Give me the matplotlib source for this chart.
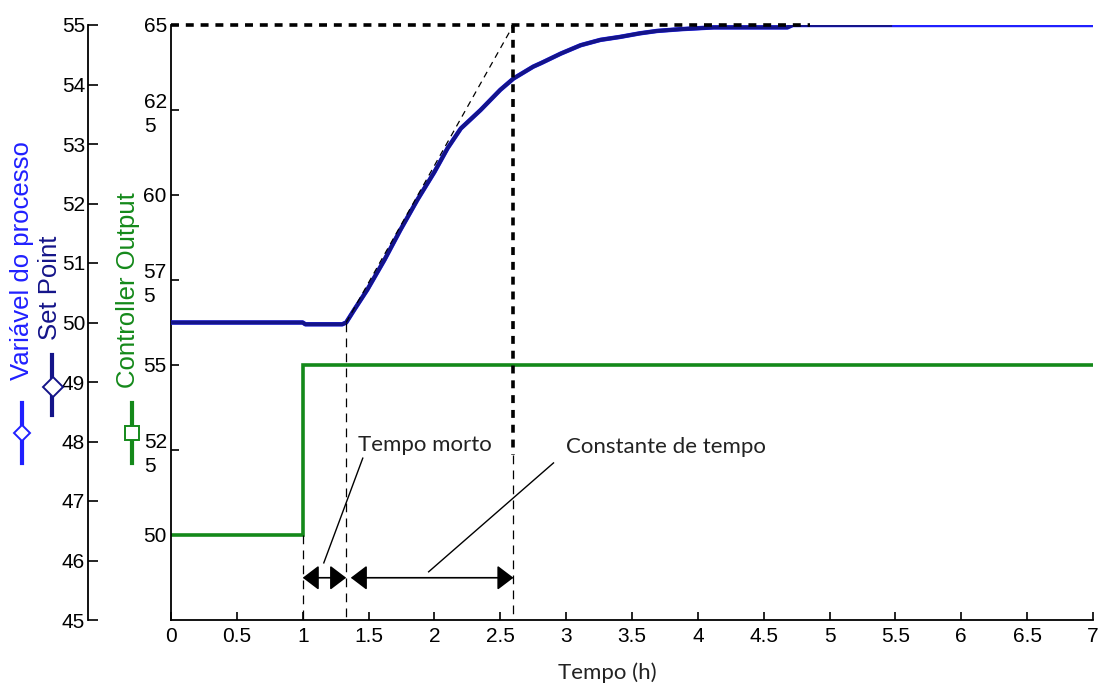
import matplotlib
matplotlib.use("Agg")
import matplotlib.pyplot as plt
from matplotlib.lines import Line2D

# ---------------- data ----------------
pv_t = [0.0, 1.0, 1.02, 1.30, 1.33, 1.39, 1.49, 1.62, 1.74, 1.87, 2.00, 2.10, 2.20,
        2.35, 2.50, 2.60, 2.75, 2.81, 2.96, 3.11, 3.26, 3.41, 3.56, 3.69, 3.87, 4.12,
        4.68, 4.72, 7.0]
pv_v = [50.0, 50.0, 49.97, 49.97, 50.0, 50.21, 50.55, 51.05, 51.55, 52.06, 52.53, 52.93, 53.26,
        53.57, 53.91, 54.10, 54.30, 54.36, 54.52, 54.66, 54.75, 54.80, 54.86, 54.90, 54.93, 54.96,
        54.96, 55.0, 55.0]
sp_end = 5.46          # where the navy trace ends (bright blue continues)

co_t = [0.0, 1.0, 1.0, 7.0]
co_v = [50.0, 50.0, 55.0, 55.0]

x_ticks = [0, 0.5, 1, 1.5, 2, 2.5, 3, 3.5, 4, 4.5, 5, 5.5, 6, 6.5, 7]
x_labels = ['0', '0.5', '1', '1.5', '2', '2.5', '3', '3.5', '4', '4.5', '5', '5.5', '6', '6.5', '7']
pv_ticks = [45, 46, 47, 48, 49, 50, 51, 52, 53, 54, 55]
co_ticks = [50, 52.5, 55, 57.5, 60, 62.5, 65]
co_labels = ['50', '52\n5', '55', '57\n5', '60', '62\n5', '65']

t_step = 1.0      # controller step
t_dead = 1.33     # end of dead time
t_tau = 2.60      # time constant end
pv_final = 55.0
pv_start = 50.0
arrow_y = 45.71

# ---------------- figure ----------------
W, H = 1106, 689
fig = plt.figure(figsize=(W / 100, H / 100), dpi=100)
L, R, B, T = 171 / W, 1093 / W, 1 - 620 / H, 1 - 25 / H
ax_co = fig.add_axes([L, B, R - L, T - B])
ax_pv = ax_co.twinx()

tick_font = dict(family=['Liberation Sans', 'DejaVu Sans'], size=15)
ann_font = ['Lato', 'DejaVu Sans']

navy = '#141489'
bright = '#2020ff'
green = '#14891a'

# controller output axis (inner)
ax_co.set_xlim(0, 7)
ax_co.set_ylim(47.5, 65)
ax_co.plot(co_t, co_v, color=green, lw=2.6, solid_joinstyle='miter')
ax_co.set_yticks(co_ticks)
ax_co.set_yticklabels(co_labels, **tick_font)
for lab in ax_co.get_yticklabels():
    lab.set_multialignment('left')
    lab.set_linespacing(1.3)
ax_co.set_xticks(x_ticks)
ax_co.set_xticklabels(x_labels, **tick_font)
ax_co.tick_params(axis='x', direction='in', length=6, width=1.2, pad=5)
ax_co.tick_params(axis='y', direction='in', length=6, width=1.2, pad=3)
for s in ['top', 'right']:
    ax_co.spines[s].set_visible(False)
for s in ['left', 'bottom']:
    ax_co.spines[s].set_linewidth(1.3)
ax_co.set_xlabel('Tempo (h)', family=ann_font, fontsize=16, color='#222222')
ax_co.xaxis.set_label_coords((607 - 171) / (1093 - 171), -(673 - 620) / (620 - 25))
ax_co.xaxis.label.set_va('center')

# process variable axis (outer)
ax_pv.set_ylim(45, 55)
ax_pv.set_xlim(0, 7)
ax_pv.yaxis.set_ticks_position('left')
ax_pv.yaxis.set_label_position('left')
ax_pv.spines['right'].set_visible(False)
ax_pv.spines['top'].set_visible(False)
ax_pv.spines['bottom'].set_visible(False)
ax_pv.spines['left'].set_visible(True)
ax_pv.spines['left'].set_position(('axes', -(171 - 88) / (1093 - 171)))
ax_pv.spines['left'].set_linewidth(1.3)
ax_pv.set_yticks(pv_ticks)
ax_pv.set_yticklabels([str(v) for v in pv_ticks], **tick_font)
ax_pv.tick_params(axis='y', direction='in', length=7, width=1.2, pad=2)

# curves
ax_pv.plot(pv_t, pv_v, color=bright, lw=3.2, zorder=3)
nt = [t for t in pv_t if t <= sp_end] + [sp_end]
nv = [v for t, v in zip(pv_t, pv_v) if t <= sp_end] + [55.0]
ax_pv.plot(nt, nv, color=navy, lw=2.8, zorder=4)

# construction lines
thick = dict(color='black', lw=2.6, dashes=(2.2, 1.9), zorder=5, clip_on=False)
thin = dict(color='black', lw=0.9, dashes=(7, 5), zorder=5)
ax_pv.plot([0, 4.85], [pv_final, pv_final], **thick)
ax_pv.plot([t_tau, t_tau], [pv_final, 47.77], **thick)
ax_pv.plot([t_tau, t_tau], [47.77, 45], **thin)
ax_pv.plot([t_dead, t_dead], [pv_start, 45], **thin)
ax_pv.plot([t_step, t_step], [46.43, 45], **thin)
ax_pv.plot([t_dead, t_tau], [pv_start, pv_final], color='black', lw=0.9, dashes=(5, 4), zorder=5)

# dimension arrows
arrow_kw = dict(arrowstyle='<|-|>,head_length=0.5,head_width=0.38', color='black', lw=1.2,
                shrinkA=0, shrinkB=0, mutation_scale=20)
ax_pv.annotate('', xy=(t_step, arrow_y), xytext=(t_dead, arrow_y), arrowprops=arrow_kw, zorder=6)
ax_pv.annotate('', xy=(1.365, arrow_y), xytext=(t_tau, arrow_y), arrowprops=arrow_kw, zorder=6)

# leader lines + labels
ax_pv.plot([1.16, 1.456], [45.96, 47.72], color='black', lw=1.0, zorder=6)
ax_pv.plot([1.956, 2.904], [45.81, 47.64], color='black', lw=1.0, zorder=6)
ax_pv.text(1.418, 47.94, 'Tempo morto', family=ann_font, fontsize=16, color='#222222',
           ha='left', va='center', zorder=7)
ax_pv.text(3.0, 47.91, 'Constante de tempo', family=ann_font, fontsize=16, color='#222222',
           ha='left', va='center', zorder=7)

# axis labels with legend-like markers
lbl_font = ['Liberation Sans', 'DejaVu Sans']
fig.text(22 / W, 1 - 261 / H, 'Variável do processo', rotation=90, color=bright,
         family=lbl_font, fontsize=18.5, ha='center', va='center')
fig.text(50 / W, 1 - 288 / H, 'Set Point', rotation=90, color=navy,
         family=lbl_font, fontsize=18.5, ha='center', va='center')
fig.text(128 / W, 1 - 290 / H, 'Controller Output', rotation=90, color=green,
         family=lbl_font, fontsize=18.5, ha='center', va='center')


def legend_mark(xp, y0, y1, ym, color, marker, ms, xm=None):
    xm = xp if xm is None else xm
    fig.add_artist(Line2D([xp / W, xp / W], [1 - y0 / H, 1 - y1 / H], transform=fig.transFigure,
                          color=color, lw=3))
    fig.add_artist(Line2D([xm / W], [1 - ym / H], transform=fig.transFigure, marker=marker,
                          markersize=ms, markerfacecolor='white',
                          markeredgecolor=color, markeredgewidth=1.4, ls='none'))


legend_mark(22, 403, 463, 433, bright, 'D', 8)
legend_mark(52, 355, 415, 387, navy, 'D', 10, 53)
legend_mark(132, 403, 463, 433, green, 's', 10)

fig.savefig('out.png', dpi=100)
